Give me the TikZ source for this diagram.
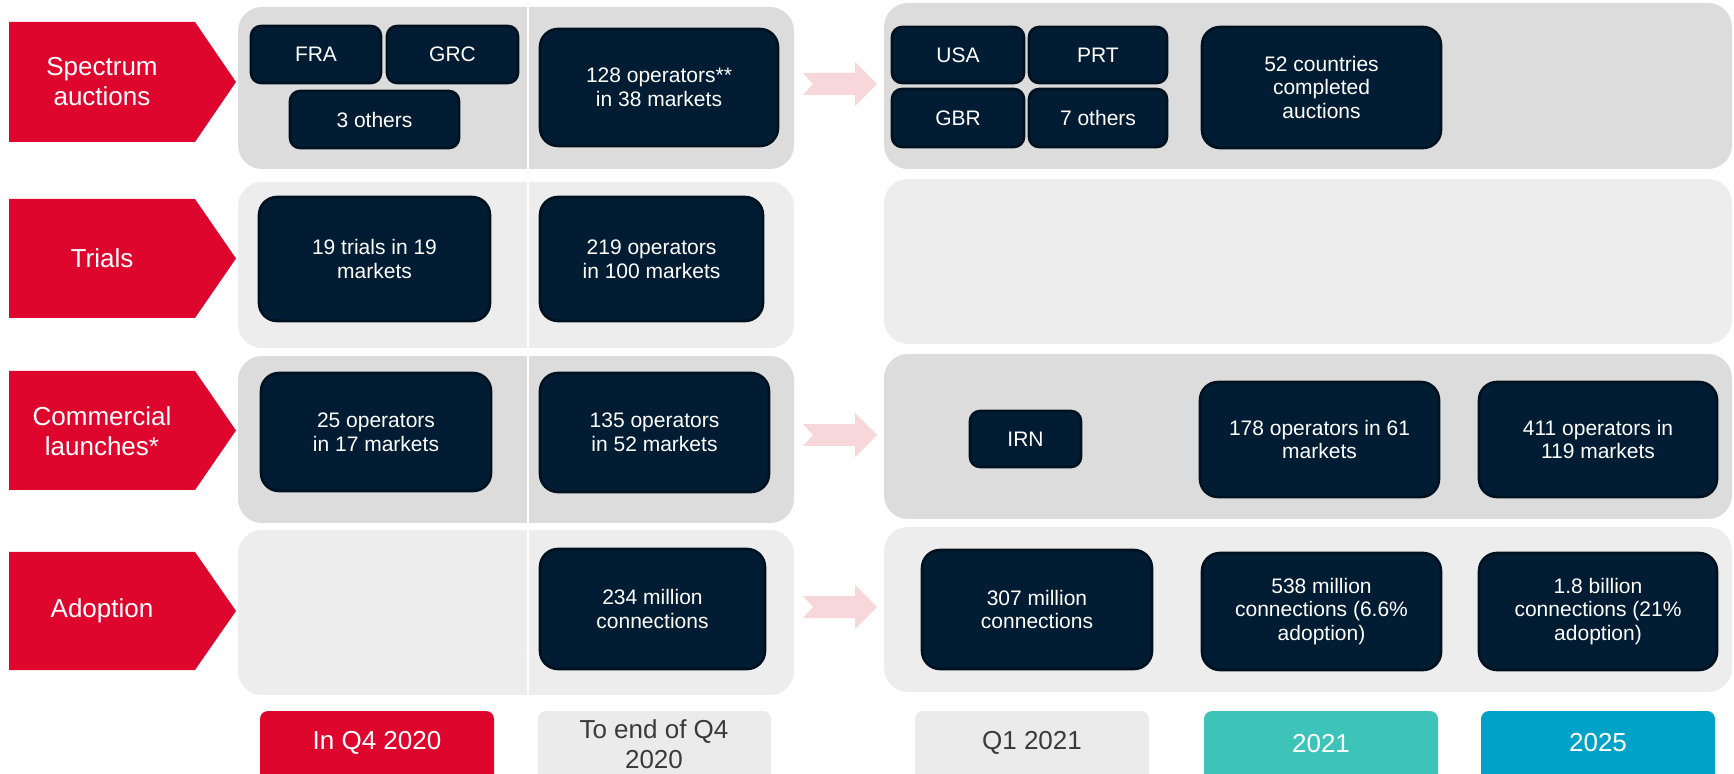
\documentclass[tikz,border=0pt]{standalone}
\usepackage{fontspec}
\setmainfont{Liberation Sans}
\definecolor{cred}{HTML}{DF062E}
\definecolor{navy}{HTML}{021D33}
\definecolor{navyd}{HTML}{00111F}
\definecolor{pdark}{HTML}{DCDCDC}
\definecolor{plight}{HTML}{EDEDED}
\definecolor{pinkarrow}{HTML}{F8D7DA}
\definecolor{lgrey}{HTML}{EBEBEB}
\definecolor{tgrey}{HTML}{3A3A3A}
\definecolor{cteal}{HTML}{3EC3B8}
\definecolor{cblue}{HTML}{00A2C8}
\tikzset{
  dbox/.style={draw=navyd, fill=navy, line width=1.3pt, rounded corners=9pt, inner sep=0pt,
    text=white, align=center, font=\fontsize{10.5}{11.8}\selectfont},
  smallbox/.style={rounded corners=5pt},
  labtxt/.style={text=white, align=center, font=\fontsize{13}{15}\selectfont, inner sep=0pt},
  lblbox/.style={rounded corners=4pt, inner sep=0pt, align=center, font=\fontsize{13}{15}\selectfont},
  chev/.style={fill=cred},
  pink/.style={fill=pinkarrow},
}
\newcommand\dbx[7][]{\node[dbox,#1,minimum width={(#5-#3)*0.5pt},minimum height={(#6-#4)*0.5pt}] (#2) at ({(#3+#5)/2},{(#4+#6)/2}) {#7};}
\newcommand\lbl[5]{\node[lblbox,#2,minimum width={(#4-#3)*0.5pt},minimum height={(785-711)*0.5pt}] (#1) at ({(#3+#4)/2},{(711+785)/2}) {};}
\newcommand\panel[5]{\fill[#5, rounded corners=12pt] (#1,#2) rectangle (#3,#4);}
\newcommand\chevron[2]{\path[chev] (9,#1) -- (195,#1) -- (236,{(#1+#2)/2}) -- (195,#2) -- (9,#2) -- cycle;}
\newcommand\parrow[1]{\path[pink] (803,#1-11) -- (855,#1-11) -- (855,#1-22) -- (877,#1) -- (855,#1+22) -- (855,#1+11) -- (803,#1+11) -- (813,#1) -- cycle;}
\begin{document}
\begin{tikzpicture}[x=0.5pt,y=-0.5pt]
\useasboundingbox (0,0) rectangle (1734,774);
\clip (0,0) rectangle (1734,774);
% panels
\panel{238}{7}{794}{169}{pdark}
\panel{238}{182}{794}{348}{plight}
\panel{238}{356}{794}{523}{pdark}
\panel{238}{530}{794}{695}{plight}
\foreach \a/\b in {7/169,182/348,356/523,530/695}
  \draw[white, line width=1.2pt] (528,\a) -- (528,\b);
\panel{884}{3}{1732}{169}{pdark}
\panel{884}{179}{1732}{344}{plight}
\panel{884}{354}{1732}{519}{pdark}
\panel{884}{527}{1732}{692}{plight}
% pink arrows
\parrow{84}
\parrow{435}
\parrow{607}
% chevrons
\chevron{22}{142}
\chevron{199}{318}
\chevron{371}{490}
\chevron{552}{670}
\node[labtxt] (l1) at (102,82) {Spectrum\\auctions};
\node[labtxt] (l2) at (102,258) {Trials};
\node[labtxt] (l3) at (102,431) {Commercial\\launches*};
\node[labtxt] (l4) at (102,611) {Adoption};
% row 1
\dbx[smallbox]{fra}{251}{26}{381}{83}{FRA}
\dbx[smallbox]{grc}{387}{26}{518}{83}{GRC}
\dbx[smallbox]{oth3}{290}{91}{459}{148}{3 others}
\dbx{ops128}{540}{29}{778}{146}{128 operators**\\in 38 markets}
\dbx[smallbox]{usa}{892}{27}{1024}{83}{USA}
\dbx[smallbox]{prt}{1029}{27}{1167}{83}{PRT}
\dbx[smallbox]{gbr}{892}{89}{1024}{147}{GBR}
\dbx[smallbox]{oth7}{1029}{89}{1167}{147}{7 others}
\dbx{c52}{1202}{27}{1441}{148}{52 countries\\completed\\auctions}
% row 2
\dbx{tr19}{259}{197}{490}{321}{19 trials in 19\\markets}
\dbx{ops219}{540}{197}{763}{321}{219 operators\\in 100 markets}
% row 3
\dbx{ops25}{261}{373}{491}{491}{25 operators\\in 17 markets}
\dbx{ops135}{540}{373}{769}{492}{135 operators\\in 52 markets}
\dbx[smallbox]{irn}{970}{411}{1081}{467}{IRN}
\dbx{ops178}{1200}{382}{1439}{497}{178 operators in 61\\markets}
\dbx{ops411}{1479}{382}{1717}{497}{411 operators in\\119 markets}
% row 4
\dbx{m234}{540}{549}{765}{669}{234 million\\connections}
\dbx{m307}{922}{550}{1152}{669}{307 million\\connections}
\dbx{m538}{1202}{553}{1441}{670}{538 million\\connections (6.6\%\\adoption)}
\dbx{b18}{1479}{553}{1717}{670}{1.8 billion\\connections (21\%\\adoption)}
% bottom labels
\lbl{q4}{fill=cred}{260}{494}{}
\lbl{eq4}{fill=lgrey}{538}{771}{}
\lbl{q121}{fill=lgrey}{915}{1149}{}
\lbl{y21}{fill=cteal}{1204}{1438}{}
\lbl{y25}{fill=cblue}{1481}{1715}{}
\node[labtxt] at (377,743) {In Q4 2020};
\node[labtxt, text=tgrey] at (654,744) {To end of Q4\\2020};
\node[labtxt, text=tgrey] at (1032,743) {Q1 2021};
\node[labtxt] at (1321,744) {2021};
\node[labtxt] at (1598,743) {2025};
\end{tikzpicture}
\end{document}
